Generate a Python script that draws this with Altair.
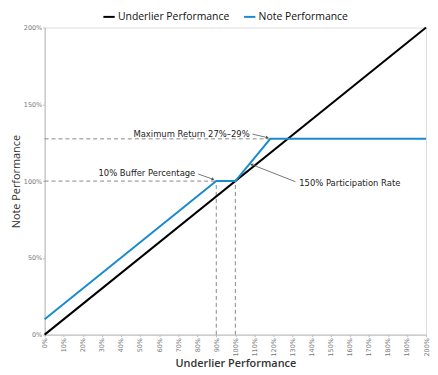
import math
import altair as alt
import pandas as pd

# ---- data ----
underlier_x = [0, 200]
underlier_y = [0, 200]
note_x = [0, 90, 100, 118.33, 200]
note_y = [10, 100, 100, 127.5, 127.5]
series_names = ["Underlier Performance", "Note Performance"]
x_ticks = list(range(0, 201, 10))
y_ticks = [0, 50, 100, 150, 200]

# reference (dashed) lines: x, y, x2, y2
ref_lines = [
    (0, 127.5, 118.33, 127.5),
    (0, 100, 100, 100),
    (90, 0, 90, 100),
    (100, 0, 100, 100),
]
# annotations: text, x, y, align, arrow start (x,y), arrow end (x,y)
annotations = [
    ("Maximum Return 27%–29%", 107.5, 130.8, "right", (109, 130.6), (116.8, 128.3)),
    ("10% Buffer Percentage", 79.0, 105.0, "right", (80.5, 104.6), (88.3, 101.2)),
    ("150% Participation Rate", 133.5, 98.5, "left", (131.5, 99.6), (108.5, 110.8)),
]

W, H = 385, 310
BLUE = "#1b8bd0"
sx, sy = W / 200.0, H / 200.0

rows = []
for x, y in zip(underlier_x, underlier_y):
    rows.append({"series": series_names[0], "x": x, "y": y})
for x, y in zip(note_x, note_y):
    rows.append({"series": series_names[1], "x": x, "y": y})
df = pd.DataFrame(rows)

ref_df = pd.DataFrame(ref_lines, columns=["x", "y", "x2", "y2"])

ann_rows, arr_rows, head_rows = [], [], []
for t, x, y, al, (ax1, ay1), (ax2, ay2) in annotations:
    ann_rows.append({"text": t, "x": x, "y": y, "align": al})
    arr_rows.append({"x": ax1, "y": ay1, "x2": ax2, "y2": ay2})
    ang = math.degrees(math.atan2(-(ay2 - ay1) * sy, (ax2 - ax1) * sx)) % 360
    head_rows.append({"x": ax2, "y": ay2, "angle": ang})
ann_df = pd.DataFrame(ann_rows)
arr_df = pd.DataFrame(arr_rows)
head_df = pd.DataFrame(head_rows)

xscale = alt.Scale(domain=[0, 200], nice=False, zero=False)
yscale = alt.Scale(domain=[0, 200], nice=False, zero=False)

x_axis = alt.Axis(
    values=x_ticks, labelExpr="datum.value + '%'", labelAngle=270,
    labelAlign="right", labelBaseline="middle", labelFontSize=6.5, labelColor="#777",
    labelFont="DejaVu Sans", labelPadding=1, tickSize=2, tickColor="#bbb",
    labelOverlap=False, labelBound=False, labelFlush=False,
    domainColor="#bbb", grid=False, title="Underlier Performance",
    titleFont="Open Sans", titleFontSize=11, titleFontWeight=600,
    titleColor="#333", titlePadding=2,
)
y_axis = alt.Axis(
    values=y_ticks, labelExpr="datum.value + '%'", labelFontSize=6.5,
    labelColor="#777", labelFont="DejaVu Sans", labelPadding=1, tickSize=2,
    labelOverlap=False, labelFlush=False,
    tickColor="#bbb", domainColor="#bbb", grid=False, title="Note Performance",
    titleFont="Open Sans", titleFontSize=11, titleFontWeight="normal",
    titleColor="#333", titlePadding=2,
)


def X(field="x"):
    return alt.X(f"{field}:Q", scale=xscale, axis=x_axis)


def Y(field="y"):
    return alt.Y(f"{field}:Q", scale=yscale, axis=y_axis)


refs = alt.Chart(ref_df).mark_rule(color="#888", strokeDash=[4, 3], strokeWidth=1).encode(
    x=X(), y=Y(), x2="x2:Q", y2="y2:Q",
)

lines = alt.Chart(df).mark_line(strokeWidth=2).encode(
    x=X(), y=Y(),
    color=alt.Color(
        "series:N",
        scale=alt.Scale(domain=series_names, range=["#000000", BLUE]),
        legend=alt.Legend(
            orient="none", legendX=58, legendY=-18, direction="horizontal",
            title=None, symbolType="stroke", symbolStrokeWidth=2, symbolSize=130,
            labelFont="Open Sans", labelFontSize=10.5, labelColor="#111",
            columnPadding=10, labelOffset=2, padding=0,
        ),
    ),
    order="x:Q",
)

arrows = alt.Chart(arr_df).mark_rule(color="#555", strokeWidth=0.8).encode(
    x=X(), y=Y(), x2="x2:Q", y2="y2:Q",
)
heads = alt.Chart(head_df).mark_point(
    shape="triangle-right", filled=True, color="#555", size=12, opacity=1
).encode(x=X(), y=Y(), angle=alt.Angle("angle:Q", scale=None))

texts_r = alt.Chart(ann_df[ann_df["align"] == "right"]).mark_text(
    align="right", baseline="middle", font="DejaVu Sans", fontSize=8.5, color="#222"
).encode(x=X(), y=Y(), text="text:N")
texts_l = alt.Chart(ann_df[ann_df["align"] == "left"]).mark_text(
    align="left", baseline="middle", font="DejaVu Sans", fontSize=8.5, color="#222"
).encode(x=X(), y=Y(), text="text:N")

chart = (
    alt.layer(refs, lines, arrows, heads, texts_r, texts_l)
    .properties(width=W, height=H, padding={"left": 2, "top": 0, "right": 0, "bottom": 0})
    .configure_view(stroke="#ccc", strokeWidth=1)
    .configure(background="white")
)

chart.save("out.html", embed_options={"renderer": "svg", "actions": False})
